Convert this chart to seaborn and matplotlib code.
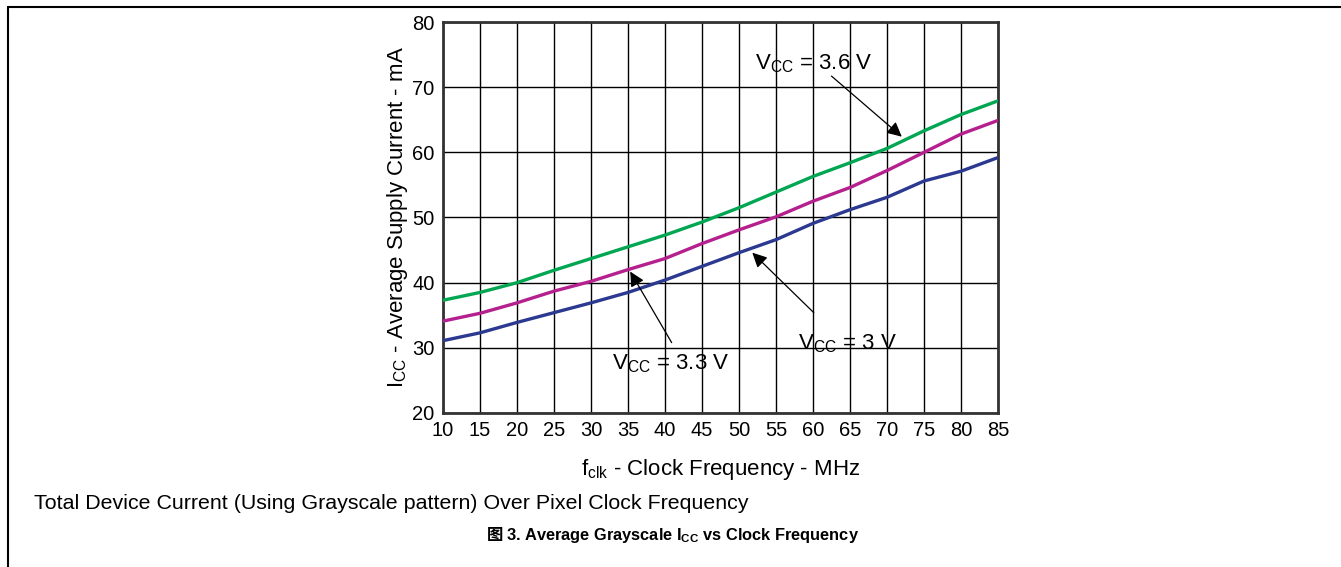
import matplotlib
matplotlib.use('Agg')
import matplotlib.pyplot as plt
import seaborn as sns
import pandas as pd

# Дані
freq_mhz = [10, 15, 20, 25, 30, 35, 40, 45, 50, 55, 60, 65, 70, 75, 80, 85]
icc_36v = [37.3, 38.5, 40.0, 41.9, 43.7, 45.5, 47.3, 49.3, 51.5, 53.9, 56.3, 58.4, 60.6, 63.3, 65.8, 67.9]
icc_33v = [34.1, 35.3, 36.9, 38.7, 40.2, 42.0, 43.7, 46.0, 48.1, 50.1, 52.5, 54.6, 57.2, 60.0, 62.8, 64.9]
icc_30v = [31.1, 32.3, 33.9, 35.4, 36.9, 38.5, 40.4, 42.5, 44.6, 46.6, 49.1, 51.2, 53.1, 55.6, 57.1, 59.2]
series_names = ['3.6 V', '3.3 V', '3 V']
series_colors = ['#00a651', '#b5208f', '#2b3990']
y_ticks = [20, 30, 40, 50, 60, 70, 80]

df = pd.concat([
    pd.DataFrame({'freq': freq_mhz, 'icc': vals, 'vcc': name})
    for name, vals in zip(series_names, [icc_36v, icc_33v, icc_30v])
])

sns.set_theme(style="white")
plt.rcParams['font.family'] = ['Liberation Sans', 'Noto Sans CJK SC', 'DejaVu Sans']
plt.rcParams['mathtext.fontset'] = 'custom'
plt.rcParams['mathtext.rm'] = 'Liberation Sans'
plt.rcParams['mathtext.bf'] = 'Liberation Sans:bold'
for key in ['text.color', 'axes.labelcolor', 'xtick.color', 'ytick.color']:
    plt.rcParams[key] = 'black'

fig = plt.figure(figsize=(13.41, 5.67), dpi=100)
ax = fig.add_axes([443 / 1341, 154 / 567, 555 / 1341, 391 / 567])

sns.lineplot(data=df, x='freq', y='icc', hue='vcc', palette=dict(zip(series_names, series_colors)),
             linewidth=2.4, legend=False, ax=ax, zorder=3)

ax.set_xlim(10, 85)
ax.set_ylim(20, 80)
ax.set_xticks(freq_mhz)
ax.set_yticks(y_ticks)
ax.grid(True, color='black', linewidth=1.0)
for s in ax.spines.values():
    s.set_color('#333333')
    s.set_linewidth(2.0)
ax.tick_params(labelsize=14.5, length=0, pad=6)
ax.set_xlabel(r'f$_{\mathrm{clk}}$ - Clock Frequency - MHz', fontsize=16, labelpad=12)
ax.set_ylabel(r'I$_{\mathrm{CC}}$ - Average Supply Current - mA', fontsize=16, labelpad=2)

# Підписи зі стрілками
arrow = dict(arrowstyle='-|>', color='black', lw=0.9, mutation_scale=22, shrinkA=0, shrinkB=0)
ax.text(52.2, 73.6, r'V$_{\mathrm{CC}}$ = 3.6 V', fontsize=16, va='center', ha='left')
ax.annotate('', xy=(72.0, 62.4), xytext=(62.5, 71.7), arrowprops=arrow)
ax.text(32.9, 27.6, r'V$_{\mathrm{CC}}$ = 3.3 V', fontsize=16, va='center', ha='left')
ax.annotate('', xy=(35.3, 41.7), xytext=(40.9, 30.8), arrowprops=arrow)
ax.text(58.0, 30.6, r'V$_{\mathrm{CC}}$ = 3 V', fontsize=16, va='center', ha='left')
ax.annotate('', xy=(51.8, 44.6), xytext=(60.1, 35.4), arrowprops=arrow)

fig.text(34 / 1341, 1 - 509 / 567, 'Total Device Current (Using Grayscale pattern) Over Pixel Clock Frequency',
         fontsize=15.4, va='baseline', ha='left')
fig.text(503 / 1341, 1 - 540 / 567, '图', family=['Noto Sans CJK SC'], fontsize=11.8, fontweight='bold',
         va='baseline', ha='right')
fig.text(506 / 1341, 1 - 540 / 567, r'3. Average Grayscale I$_{\mathbf{CC}}$ vs Clock Frequency',
         fontsize=11.8, fontweight='bold', va='baseline', ha='left')

# Рамка сторінки
fig.add_artist(plt.Line2D([8 / 1341, 8 / 1341], [0, 1 - 7 / 567], color='black', lw=1.5))
fig.add_artist(plt.Line2D([8 / 1341, 1], [1 - 7 / 567, 1 - 7 / 567], color='black', lw=1.5))

fig.savefig('out.png', dpi=100)
